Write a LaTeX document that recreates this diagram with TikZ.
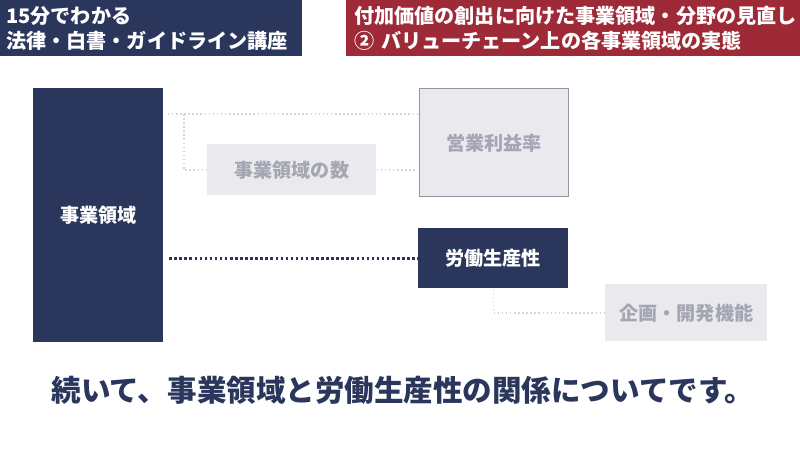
\documentclass[tikz,border=0pt]{standalone}
\usepackage{fontspec}
\setmainfont{Noto Sans CJK JP}
\definecolor{navy}{HTML}{2B365C}
\definecolor{wine}{HTML}{9E2A37}
\definecolor{pale}{HTML}{E9E9EE}
\definecolor{paletext}{HTML}{A5A6B3}
\definecolor{paleline}{HTML}{D3D4DC}
\tikzset{
	%Define style for dark boxes
	feld/.style={
		rectangle,
		fill=navy,
		text=white,
		inner sep=0pt,
		anchor=north west,
		font=\bfseries\fontsize{13.6}{16}\selectfont},
	%Define style for pale boxes
	hellfeld/.style={
		feld,
		fill=pale,
		text=paletext},
	%Define style for header bars
	kopf/.style={
		rectangle,
		anchor=north west,
		text=white,
		align=left,
		inner ysep=0pt,
		minimum height=1.4cm,
		font=\bfseries\fontsize{14.3}{17.7}\selectfont},
	% Define dotted line styles
	hellpunkt/.style={
		draw=paleline,
		line width=1.1pt,
		dash pattern=on 1.1pt off 1.8pt},
	dunkelpunkt/.style={
		draw=navy,
		line width=1.8pt,
		dash pattern=on 1.8pt off 1.8pt}
}
\begin{document}
\begin{tikzpicture}[x=0.025cm, y=-0.025cm]
	\useasboundingbox[fill=white] (0,0) rectangle (800,450);
	
	\node[kopf, fill=navy, minimum width=7.55cm, text width=7.25cm, inner xsep=0.15cm] (hdrleft) at (0,0) {15分でわかる\\法律・白書・ガイドライン講座};
	\node[kopf, fill=wine, minimum width=11.35cm, text width=11.15cm, inner xsep=0.2cm] (hdrright) at (346,0) {付加価値の創出に向けた事業領域・分野の見直し\\② バリューチェーン上の各事業領域の実態};
	
	\node[feld, minimum width=3.25cm, minimum height=6.35cm] (area) at (33,88) {事業領域};
	\node[hellfeld, draw=paletext!90!black, line width=1pt, minimum width=3.725cm, minimum height=2.7cm] (profit) at (419,88) {営業利益率};
	\node[hellfeld, minimum width=4.225cm, minimum height=1.275cm] (count) at (207,144) {事業領域の数};
	\node[feld, minimum width=3.75cm, minimum height=1.5cm] (labour) at (418,228) {労働生産性};
	\node[hellfeld, minimum width=4.05cm, minimum height=1.425cm] (plan) at (605,284) {企画・開発機能};
	
	\node[text=navy, font=\bfseries\fontsize{21}{24}\selectfont] (msg) at (403,390) {続いて、事業領域と労働生産性の関係についてです。};
	
	\coordinate (abzweig) at (184,114);
	
	\draw[hellpunkt, shorten <=3pt] ([yshift=-0.65cm]area.north east) -- ([yshift=-0.65cm]profit.north west);
	\draw[hellpunkt] (abzweig) |- (count.west);
	\draw[hellpunkt, shorten >=3pt] (count.east) -- (profit.west |- count.east);
	\draw[dunkelpunkt, shorten <=4pt] (area.east |- labour.west) -- (labour.west);
	\draw[hellpunkt] (labour.south) |- (plan.west);
	
\end{tikzpicture}
\end{document}
